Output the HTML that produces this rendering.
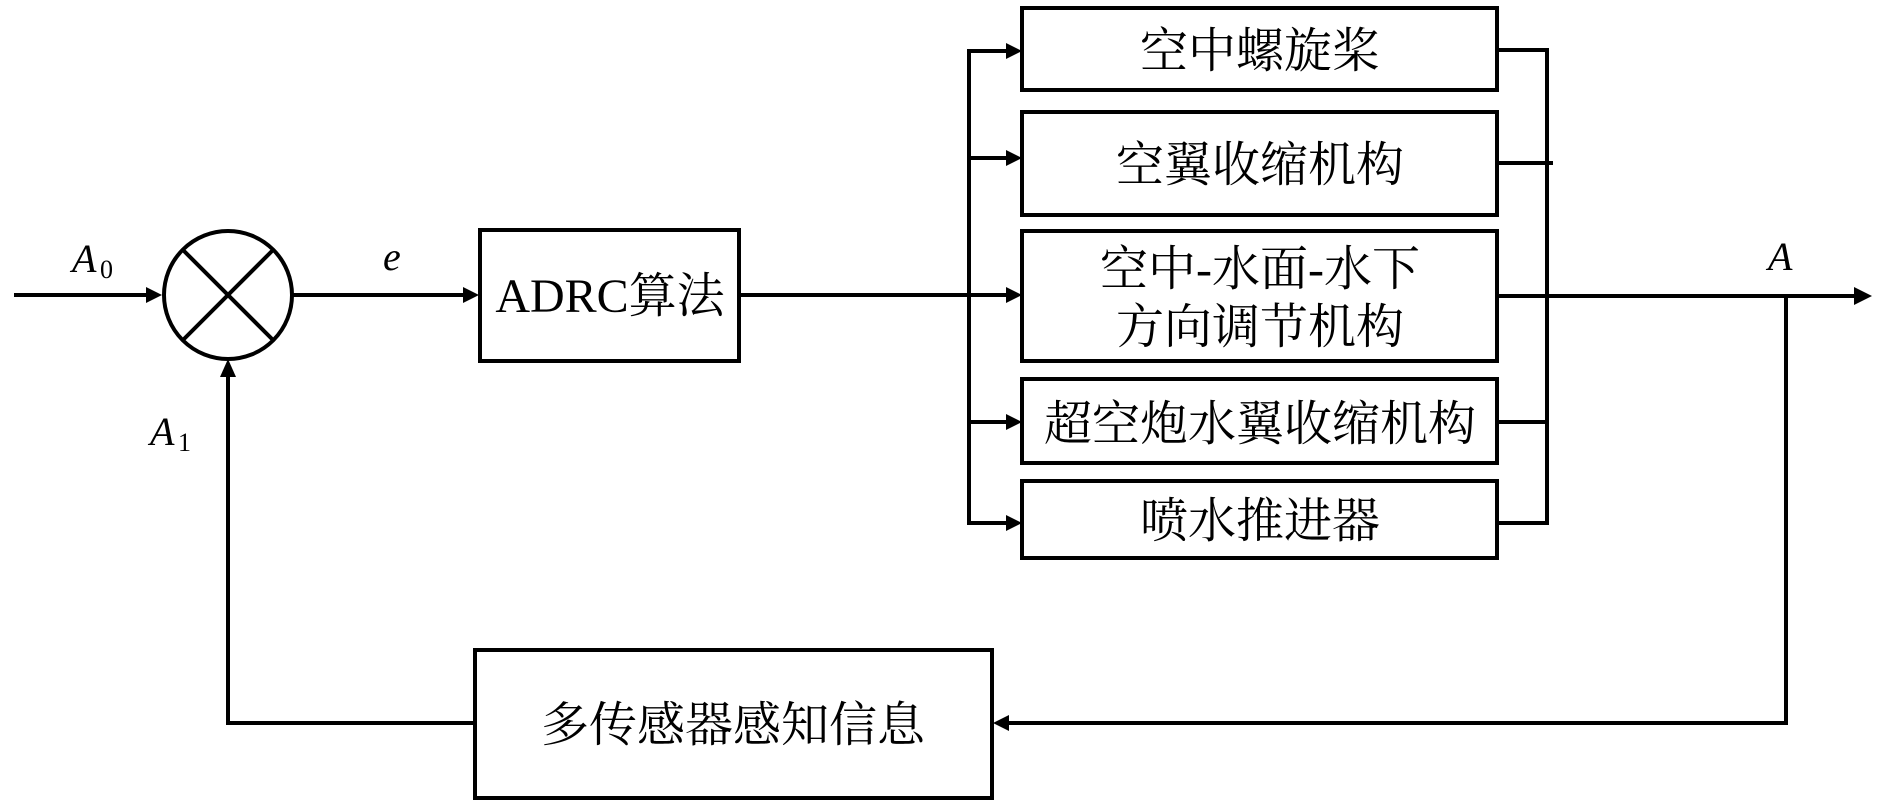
<!DOCTYPE html>
<html><head><meta charset="utf-8"><style>
html,body{margin:0;padding:0;background:#fff;}
svg{display:block;}
text{font-family:"Liberation Serif","Noto Serif CJK SC","Noto Sans CJK SC",serif;fill:#000;}
</style></head><body>
<svg width="1890" height="801" viewBox="0 0 1890 801" xmlns="http://www.w3.org/2000/svg">
<defs>
<marker id="ar" markerWidth="10" markerHeight="10" refX="9" refY="5" orient="auto" markerUnits="userSpaceOnUse" viewBox="0 0 10 10">
</marker>
</defs>
<g stroke="#000" stroke-width="4" fill="none">
<!-- summing junction -->
<circle cx="228" cy="295" r="64"/>
<line x1="183" y1="250" x2="273" y2="340"/>
<line x1="273" y1="250" x2="183" y2="340"/>
<!-- input -->
<line x1="14" y1="295" x2="150" y2="295"/>
<line x1="292" y1="295" x2="465" y2="295"/>
<rect x="480" y="230" width="259" height="131"/>
<line x1="739" y1="295" x2="1010" y2="295"/>
<!-- left bus -->
<polyline points="1008,51 969,51 969,523 1008,523"/>
<line x1="969" y1="158" x2="1008" y2="158"/>
<line x1="969" y1="422" x2="1008" y2="422"/>
<!-- boxes -->
<rect x="1022" y="8" width="475" height="82"/>
<rect x="1022" y="112" width="475" height="103"/>
<rect x="1022" y="231" width="475" height="130"/>
<rect x="1022" y="379" width="475" height="84"/>
<rect x="1022" y="481" width="475" height="77"/>
<!-- right bus -->
<polyline points="1497,50 1547,50 1547,523 1497,523"/>
<line x1="1497" y1="163" x2="1553" y2="163"/>
<line x1="1497" y1="422" x2="1547" y2="422"/>
<line x1="1497" y1="296" x2="1855" y2="296"/>
<!-- feedback -->
<polyline points="1786,296 1786,723 1005,723"/>
<rect x="475" y="650" width="517" height="148"/>
<polyline points="475,723 228,723 228,375"/>
</g>
<g fill="#000">
<polygon points="162,295 146,287 146,303"/>
<polygon points="479,295 463,287 463,303"/>
<polygon points="1022,51 1006,43 1006,59"/>
<polygon points="1022,158 1006,150 1006,166"/>
<polygon points="1022,295 1006,287 1006,303"/>
<polygon points="1022,422 1006,414 1006,430"/>
<polygon points="1022,523 1006,515 1006,531"/>
<polygon points="1872,296 1854,287 1854,305"/>
<polygon points="993,723 1009,715 1009,731"/>
<polygon points="228,359 220,377 236,377"/>
</g>
<g font-size="40" font-style="italic">
<text x="72" y="272">A</text>
<text x="383" y="270">e</text>
<text x="1768" y="270">A</text>
<text x="150" y="445">A</text>
</g>
<g font-size="26">
<text x="100" y="278">0</text>
<text x="178" y="451">1</text>
</g>
<g font-size="48" text-anchor="middle">
<text x="610" y="312">ADRC算法</text>
<text x="1260" y="67">空中螺旋桨</text>
<text x="1260" y="181">空翼收缩机构</text>
<text x="1260" y="285">空中-水面-水下</text>
<text x="1260" y="343">方向调节机构</text>
<text x="1260" y="440">超空炮水翼收缩机构</text>
<text x="1260" y="537">喷水推进器</text>
<text x="733" y="741">多传感器感知信息</text>
</g>
</svg>
</body></html>
